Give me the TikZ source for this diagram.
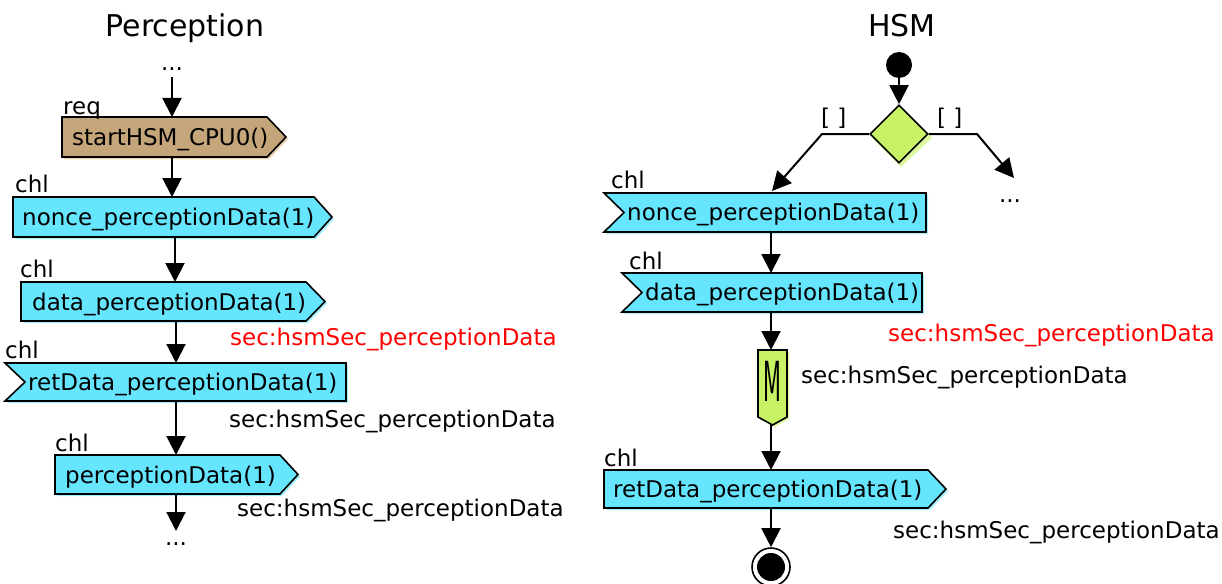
\documentclass[tikz,border=0pt]{standalone}
\usepackage{fontspec}
\setmainfont{DejaVu Sans}
\usetikzlibrary{arrows.meta,shapes.geometric}
\definecolor{boxcyan}{RGB}{102,229,255}
\definecolor{shcyan}{RGB}{165,240,255}
\definecolor{boxtan}{RGB}{196,166,122}
\definecolor{shtan}{RGB}{230,208,170}
\definecolor{boxgreen}{RGB}{200,242,102}
\definecolor{shgreen}{RGB}{222,250,160}
\definecolor{secred}{RGB}{255,0,0}
% right-pointing signal: xl, yt, xs (tip start), xt (tip), yb
\newcommand\rsig[5]{(#1,#2) -- (#3,#2) -- (#4,{(#2+#5)/2}) -- (#3,#5) -- (#1,#5) -- cycle}
% left-notched signal: xl, yt, xr, yb, xn (notch)
\newcommand\lsig[5]{(#1,#2) -- (#3,#2) -- (#3,#4) -- (#1,#4) -- (#5,{(#2+#4)/2}) -- cycle}
\tikzset{
  every node/.style={inner sep=0pt, font=\fontsize{23}{27}\selectfont},
  lbl/.style={anchor=base west},
  ttl/.style={anchor=base, font=\fontsize{30}{36}\selectfont},
  arr/.style={line width=2pt, -{Triangle[length=19pt,width=19pt]}},
  boxc/.style={fill=boxcyan, draw=black, line width=1.6pt, line join=miter},
  boxt/.style={fill=boxtan, draw=black, line width=1.6pt, line join=miter},
  boxg/.style={fill=boxgreen, draw=black, line width=1.6pt, line join=miter},
  shadow/.style={shift={(2,2)}},
}
\begin{document}
\begin{tikzpicture}[x=1pt,y=-1pt]
\clip (0,0) rectangle (1222,583);
% ---------- titles ----------
\node[ttl] (tP) at (185,37) {Perception};
\node[ttl] (tH) at (902,37) {HSM};

% ---------- Perception column ----------
\node[anchor=base] (dotsL1) at (172,71) {...};
\coordinate (a0) at (172,77);

\fill[shtan,shadow] \rsig{62}{117}{267}{286}{157};
\draw[boxt] \rsig{62}{117}{267}{286}{157};
\node[lbl] (req) at (63,114) {req};
\node[lbl] (startHSM) at (72,145) {startHSM\_CPU0()};
\coordinate (startT) at (172,117);
\coordinate (startB) at (172,157);

\fill[shcyan,shadow] \rsig{13}{197}{314}{332}{237};
\draw[boxc] \rsig{13}{197}{314}{332}{237};
\node[lbl] (chl1) at (15,192) {chl};
\node[lbl] (nonceL) at (22,225) {nonce\_perceptionData(1)};
\coordinate (nonceLT) at (172,197);
\coordinate (nonceLB) at (175,238);

\fill[shcyan,shadow] \rsig{21}{282}{306}{325}{321};
\draw[boxc] \rsig{21}{282}{306}{325}{321};
\node[lbl] (chl2) at (20,277) {chl};
\node[lbl] (dataL) at (32,310) {data\_perceptionData(1)};
\coordinate (dataLT) at (175,282);
\coordinate (dataLB) at (176,322);
\node[lbl, text=secred] (secL0) at (230,345) {sec:hsmSec\_perceptionData};

\fill[shcyan,shadow] \lsig{5}{363}{346}{401}{25};
\draw[boxc] \lsig{5}{363}{346}{401}{25};
\node[lbl] (chl3) at (5,358) {chl};
\node[lbl] (retL) at (28,390) {retData\_perceptionData(1)};
\coordinate (retLT) at (176,363);
\coordinate (retLB) at (176,402);
\node[lbl] (secL1) at (229,427) {sec:hsmSec\_perceptionData};

\fill[shcyan,shadow] \rsig{55}{455}{280}{298}{494};
\draw[boxc] \rsig{55}{455}{280}{298}{494};
\node[lbl] (chl4) at (55,451) {chl};
\node[lbl] (percL) at (65,483) {perceptionData(1)};
\coordinate (percLT) at (176,455);
\coordinate (percLB) at (176,495);
\node[lbl] (secL2) at (237,516) {sec:hsmSec\_perceptionData};

\node[anchor=base] (dotsL2) at (176,545) {...};
\coordinate (a6) at (176,531);

\draw[arr] (a0) -- (startT);
\draw[arr] (startB) -- (nonceLT);
\draw[arr] (nonceLB) -- (dataLT);
\draw[arr] (dataLB) -- (retLT);
\draw[arr] (retLB) -- (percLT);
\draw[arr] (percLB) -- (a6);

% ---------- HSM column ----------
\node[circle, fill=black, minimum size=26pt] (init) at (899,65) {};
\fill[shgreen] (901,107) -- (932,138) -- (901,167) -- (872,138) -- cycle;
\node[diamond, aspect=1, fill=boxgreen, draw=black, line width=1.6pt,
      minimum width=58pt, minimum height=58pt] (dec) at (899,134) {};
\draw[arr] (init) -- (dec);

\coordinate (brL) at (822,134);
\coordinate (brR) at (977,134);
\coordinate (nonceRT) at (772,191);
\coordinate (toDots) at (1014,178);
\node[lbl] (g1) at (821,125) {[ ]};
\node[lbl] (g2) at (937,125) {[ ]};
\node[anchor=base] (dotsR) at (1010,202) {...};
\draw[arr, line join=miter] (dec.west) -- (brL) -- (nonceRT);
\draw[arr, line join=miter] (dec.east) -- (brR) -- (toDots);

\fill[shcyan,shadow] \lsig{604}{193}{926}{232}{624};
\draw[boxc] \lsig{604}{193}{926}{232}{624};
\node[lbl] (chl5) at (611,188) {chl};
\node[lbl] (nonceR) at (627,220) {nonce\_perceptionData(1)};
\coordinate (nonceRB) at (771,233);

\fill[shcyan,shadow] \lsig{622}{273}{922}{312}{642};
\draw[boxc] \lsig{622}{273}{922}{312}{642};
\node[lbl] (chl6) at (629,269) {chl};
\node[lbl] (dataR) at (645,300) {data\_perceptionData(1)};
\coordinate (dataRT) at (771,273);
\coordinate (dataRB) at (771,313);
\node[lbl, text=secred] (secR0) at (888,341) {sec:hsmSec\_perceptionData};

\fill[shgreen,shadow] (758,350) -- (787,350) -- (787,417) -- (772.5,425) -- (758,417) -- cycle;
\draw[boxg] (758,350) -- (787,350) -- (787,417) -- (772.5,425) -- (758,417) -- cycle;
\node (mark) at (772.5,381) {\scalebox{0.9}[2.4]{M}};
\coordinate (markT) at (771,350);
\coordinate (markB) at (771,425);
\node[lbl] (secR1) at (801,383) {sec:hsmSec\_perceptionData};

\fill[shcyan,shadow] \rsig{604}{470}{928}{946}{508};
\draw[boxc] \rsig{604}{470}{928}{946}{508};
\node[lbl] (chl7) at (604,466) {chl};
\node[lbl] (retR) at (613,497) {retData\_perceptionData(1)};
\coordinate (retRT) at (771,470);
\coordinate (retRB) at (771,509);
\node[lbl] (secR2) at (893,538) {sec:hsmSec\_perceptionData};

\node[circle, draw=black, line width=1.6pt, fill=white, minimum size=38pt] (fin) at (771,567) {};
\node[circle, fill=black, minimum size=28pt] (finin) at (fin) {};

\draw[arr] (nonceRB) -- (dataRT);
\draw[arr] (dataRB) -- (markT);
\draw[arr] (markB) -- (retRT);
\draw[arr] (retRB) -- (fin);
\end{tikzpicture}
\end{document}
